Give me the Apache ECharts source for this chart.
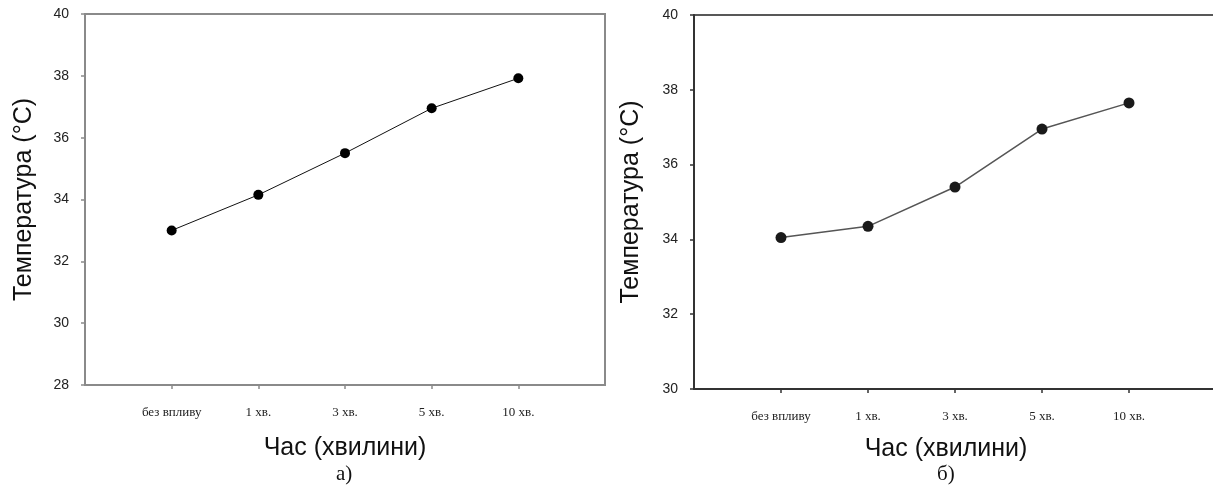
<!DOCTYPE html>
<html>
<head>
<meta charset="utf-8">
<script src="https://cdn.jsdelivr.net/npm/echarts@6/dist/echarts.min.js"></script>
<style>
  html, body { margin: 0; padding: 0; background: #fff; }
  #chart { width: 1213px; height: 490px; }
</style>
</head>
<body>
<div id="chart"></div>
<script>
// time points (x categories), same for both panels
const categories = ['без впливу', '1 хв.', '3 хв.', '5 хв.', '10 хв.']
// panel а) temperature, °C
const tempA = [33.0, 34.15, 35.5, 36.95, 37.92]
// panel б) temperature, °C
const tempB = [34.05, 34.35, 35.4, 36.95, 37.65]
// y axis ranges
const yRangeA = [28, 40]
const yRangeB = [30, 40]
const yStep = 2

// empty slot at each end so the points sit one step inside the box
const xCats = [''].concat(categories, [''])
const pad = vals => [null].concat(vals, [null])

const chart = echarts.init(document.getElementById('chart'))

const xAxisBase = (gridIndex, color, nameGap) => ({
  type: 'category',
  gridIndex: gridIndex,
  data: xCats,
  boundaryGap: false,
  name: 'Час (хвилини)',
  nameLocation: 'middle',
  nameGap: nameGap,
  nameTextStyle: { fontFamily: 'Liberation Sans', fontSize: 25, color: '#111' },
  axisLine: { lineStyle: { color: color, width: 2 } },
  axisTick: { show: true, length: 4, interval: (i) => i > 0 && i < xCats.length - 1, lineStyle: { color: color, width: 1.5 } },
  axisLabel: { interval: 0, margin: 21, fontFamily: 'Liberation Serif', fontSize: 13, color: '#222' },
  splitLine: { show: false }
})

const yAxisBase = (gridIndex, range, color, nameGap) => ({
  type: 'value',
  gridIndex: gridIndex,
  min: range[0],
  max: range[1],
  interval: yStep,
  name: 'Температура (°C)',
  nameLocation: 'middle',
  nameGap: nameGap,
  nameRotate: 90,
  nameTextStyle: { fontFamily: 'Liberation Sans', fontSize: 25, color: '#111' },
  axisLine: { show: true, lineStyle: { color: color, width: 2 } },
  axisTick: { show: true, length: 4, lineStyle: { color: color, width: 1.5 } },
  axisLabel: { margin: 16, fontFamily: 'Liberation Sans', fontSize: 14, color: '#222' },
  splitLine: { show: false }
})

const xA = xAxisBase(0, '#8a8a8a', 51)
const xB = xAxisBase(1, '#333', 48)
xB.nameTextStyle = Object.assign({}, xB.nameTextStyle, { padding: [0, 18, 0, 0] })

chart.setOption({
  animation: false,
  backgroundColor: '#fff',
  grid: [
    { left: 85, top: 14, width: 520, height: 371, show: true, borderColor: '#8a8a8a', borderWidth: 2, outerBoundsMode: 'none' },
    { left: 694, top: 15, width: 522, height: 374, show: true, borderColor: '#222', borderWidth: 1.5, outerBoundsMode: 'none' }
  ],
  xAxis: [xA, xB],
  yAxis: [
    yAxisBase(0, yRangeA, '#8a8a8a', 48),
    yAxisBase(1, yRangeB, '#333', 50)
  ],
  series: [
    {
      type: 'line',
      xAxisIndex: 0,
      yAxisIndex: 0,
      data: pad(tempA),
      symbol: 'circle',
      symbolSize: 10,
      itemStyle: { color: '#000' },
      lineStyle: { color: '#111', width: 1 }
    },
    {
      type: 'line',
      xAxisIndex: 1,
      yAxisIndex: 1,
      data: pad(tempB),
      symbol: 'circle',
      symbolSize: 11,
      itemStyle: { color: '#1a1a1a' },
      lineStyle: { color: '#555', width: 1.5 }
    }
  ],
  graphic: [
    { type: 'text', left: 336, top: 464, style: { text: 'а)', font: '21px "Liberation Serif"', fill: '#111' } },
    { type: 'text', left: 937, top: 464, style: { text: 'б)', font: '21px "Liberation Serif"', fill: '#111' } }
  ]
})
</script>
</body>
</html>
